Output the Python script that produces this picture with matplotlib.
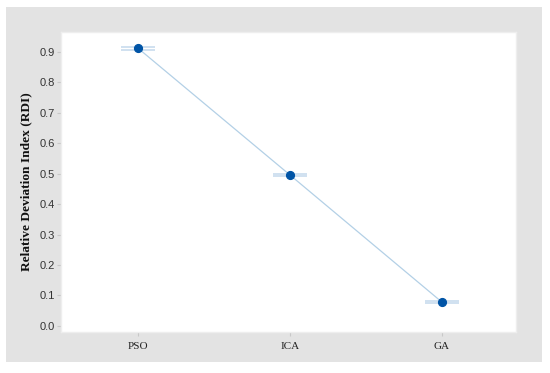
import matplotlib
matplotlib.use("Agg")
import matplotlib.pyplot as plt
from matplotlib.patches import Rectangle

categories = ["PSO", "ICA", "GA"]
rdi_values = [0.910, 0.495, 0.079]
ci_halfwidth = [0.004, 0.004, 0.004]
yticks = [0.0, 0.1, 0.2, 0.3, 0.4, 0.5, 0.6, 0.7, 0.8, 0.9]

fig = plt.figure(figsize=(5.5, 3.73), dpi=100)
fig.patch.set_facecolor("white")
bg = Rectangle((6/550, 11/373), 536/550, 355/373,
               transform=fig.transFigure, facecolor="#e3e3e3",
               edgecolor="none", zorder=-10)
fig.patches.append(bg)

ax = fig.add_axes([61/550, 1-332/373, 455/550, 300/373])
ax.set_zorder(5)
ax.set_facecolor("white")
x = list(range(len(categories)))
ax.plot(x, rdi_values, color="#b3d0e6", lw=0.9, zorder=2)
ax.errorbar(x, rdi_values, yerr=ci_halfwidth, fmt="none", ecolor="#c8dbee",
            elinewidth=0.9, capsize=12, capthick=1.2, zorder=3)
ax.plot(x, rdi_values, "o", color="#0054a6", markersize=5.6, zorder=4)

ax.set_xlim(-0.51, 2.49)
ax.set_ylim(-0.0197, 0.964)
ax.set_xticks(x)
ax.set_xticklabels(categories, family="Liberation Serif", fontsize=8, color="#222222")
ax.set_yticks(yticks)
ax.set_yticklabels([f"{v:.1f}" for v in yticks], family="Liberation Sans",
                   fontsize=8, color="#333333")
ax.tick_params(axis="both", length=3, width=0.8, color="#c8c8c8")
ax.tick_params(axis="y", pad=1.5)
ax.tick_params(axis="x", pad=4)
for s in ax.spines.values():
    s.set_color("#eeeeee")
    s.set_linewidth(1)
ax.set_ylabel("Relative Deviation Index (RDI)", family="Liberation Serif",
              fontweight="bold", fontsize=9.6, color="#111111", labelpad=5)

fig.savefig("out.png", dpi=100, facecolor="white")
